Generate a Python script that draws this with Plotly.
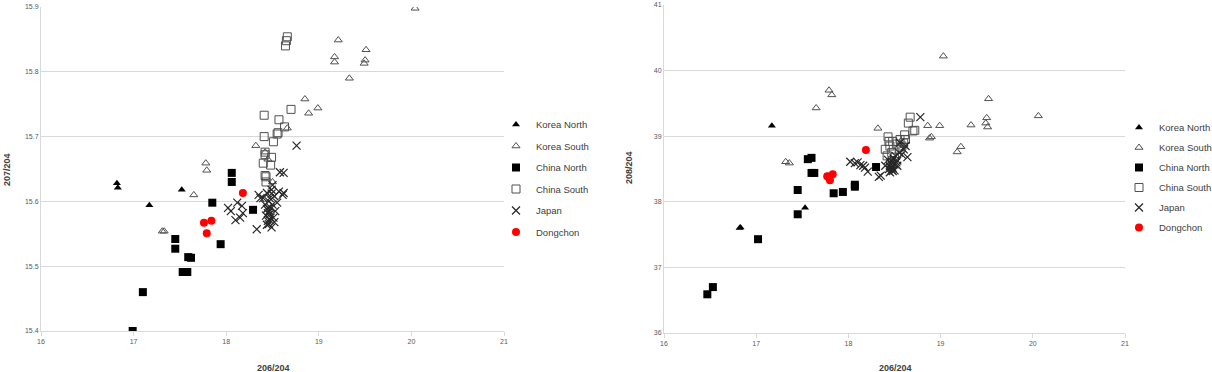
import plotly.graph_objects as go

# ---------------- Left panel: 207/204 vs 206/204 ----------------
kn_x_L = [16.82, 16.83, 17.52, 17.17]
kn_y_L = [15.628, 15.621, 15.618, 15.594]

ks_x_L = [20.04, 19.21, 19.17, 19.17, 19.51, 19.50, 19.49, 19.33, 18.85, 18.89, 18.99,
          18.66, 18.32, 17.78, 17.79, 17.65, 17.31, 17.33, 18.42, 18.45, 18.50]
ks_y_L = [15.898, 15.849, 15.823, 15.815, 15.834, 15.818, 15.813, 15.790, 15.758, 15.736, 15.744,
          15.713, 15.686, 15.659, 15.648, 15.610, 15.554, 15.554, 15.676, 15.665, 15.630]

cn_x_L = [16.99, 17.10, 17.53, 17.58, 17.59, 17.62, 17.45, 17.45, 17.85, 17.94, 18.06, 18.06, 18.29]
cn_y_L = [15.400, 15.460, 15.491, 15.491, 15.514, 15.513, 15.542, 15.527, 15.598, 15.534, 15.644, 15.630, 15.587]

cs_x_L = [18.66, 18.65, 18.64, 18.41, 18.70, 18.57, 18.56, 18.55, 18.63, 18.41, 18.51,
          18.42, 18.42, 18.49, 18.40, 18.43, 18.43, 18.48, 18.42]
cs_y_L = [15.854, 15.848, 15.840, 15.733, 15.742, 15.726, 15.706, 15.704, 15.715, 15.700, 15.692,
          15.676, 15.672, 15.668, 15.659, 15.638, 15.630, 15.656, 15.640]

jp_x_L = [18.76, 18.62, 18.58, 18.62, 18.61, 18.02, 18.12, 18.17, 18.10, 18.18, 18.33,
          18.37, 18.44, 18.49, 18.55, 18.45, 18.47, 18.44, 18.50, 18.52, 18.42, 18.48,
          18.53, 18.40, 18.46, 18.51, 18.43, 18.49, 18.57, 18.35, 18.05, 18.15,
          18.45, 18.46, 18.47, 18.45, 18.48, 18.46, 18.50, 18.47, 18.44, 18.52, 18.49]
jp_y_L = [15.686, 15.644, 15.645, 15.613, 15.610, 15.590, 15.598, 15.593, 15.571, 15.582, 15.557,
          15.605, 15.613, 15.618, 15.598, 15.582, 15.571, 15.564, 15.625, 15.608, 15.595, 15.590,
          15.585, 15.605, 15.600, 15.575, 15.578, 15.560, 15.615, 15.610, 15.585, 15.575,
          15.570, 15.565, 15.580, 15.590, 15.575, 15.585, 15.595, 15.605, 15.588, 15.568, 15.612]

dc_x_L = [17.76, 17.84, 17.79, 18.18]
dc_y_L = [15.567, 15.570, 15.551, 15.613]

# ---------------- Right panel: 208/204 vs 206/204 ----------------
kn_x_R = [17.17, 16.82, 16.83, 17.53]
kn_y_R = [39.16, 37.60, 37.61, 37.91]

ks_x_R = [19.03, 19.52, 20.06, 18.86, 18.99, 19.33, 19.50, 19.49, 19.51, 18.90, 19.22,
          19.18, 17.79, 17.82, 17.65, 17.32, 17.36, 18.32, 18.88]
ks_y_R = [40.22, 39.57, 39.31, 39.16, 39.16, 39.17, 39.28, 39.20, 39.14, 38.99, 38.84,
          38.76, 39.70, 39.63, 39.43, 38.61, 38.59, 39.12, 38.97]

cn_x_R = [16.47, 16.53, 17.02, 17.45, 17.45, 17.84, 17.94, 18.07, 18.07, 17.56, 17.60, 17.60, 17.63, 18.30]
cn_y_R = [36.59, 36.70, 37.43, 37.81, 38.18, 38.13, 38.15, 38.26, 38.23, 38.65, 38.67, 38.44, 38.44, 38.53]

cs_x_R = [18.67, 18.65, 18.70, 18.72, 18.61, 18.43, 18.48, 18.52, 18.45, 18.56, 18.60,
          18.40, 18.47, 18.55, 18.42, 18.50, 18.58, 18.44, 18.62, 18.46]
cs_y_R = [39.29, 39.20, 39.08, 39.09, 39.02, 38.99, 38.92, 38.88, 38.85, 38.95, 38.90,
          38.80, 38.75, 38.80, 38.70, 38.68, 38.85, 38.92, 38.95, 38.60]

jp_x_R = [18.02, 18.07, 18.13, 18.18, 18.21, 18.33, 18.78, 18.10, 18.16, 18.35,
          18.56, 18.60, 18.64, 18.43, 18.46, 18.48, 18.50, 18.53, 18.45, 18.47,
          18.49, 18.52, 18.44, 18.51, 18.55, 18.40, 18.58, 18.62, 18.48, 18.46,
          18.50, 18.47, 18.53, 18.45]
jp_y_R = [38.61, 38.59, 38.56, 38.52, 38.46, 38.38, 39.29, 38.60, 38.55, 38.40,
          38.90, 38.80, 38.68, 38.64, 38.58, 38.52, 38.48, 38.55, 38.45, 38.62,
          38.66, 38.60, 38.50, 38.70, 38.75, 38.55, 38.72, 38.85, 38.47, 38.52,
          38.57, 38.49, 38.63, 38.54]

dc_x_R = [18.19, 17.78, 17.83, 17.80, 17.77]
dc_y_R = [38.79, 38.38, 38.42, 38.33, 38.39]

series_names = ["Korea North", "Korea South", "China North", "China South", "Japan", "Dongchon"]

styles = [
    dict(symbol="triangle-up", color="#000000", size=7, line=dict(width=0)),
    dict(symbol="triangle-up-open", color="#505050", size=7, line=dict(width=1)),
    dict(symbol="square", color="#000000", size=8, line=dict(width=0)),
    dict(symbol="square-open", color="#505050", size=8, line=dict(width=1)),
    dict(symbol="x-thin-open", color="#262626", size=8, line=dict(width=1.2, color="#262626")),
    dict(symbol="circle", color="#ff0000", size=8, line=dict(width=0)),
]

left = [(kn_x_L, kn_y_L), (ks_x_L, ks_y_L), (cn_x_L, cn_y_L), (cs_x_L, cs_y_L), (jp_x_L, jp_y_L), (dc_x_L, dc_y_L)]
right = [(kn_x_R, kn_y_R), (ks_x_R, ks_y_R), (cn_x_R, cn_y_R), (cs_x_R, cs_y_R), (jp_x_R, jp_y_R), (dc_x_R, dc_y_R)]

fig = go.Figure()
for i, (name, st) in enumerate(zip(series_names, styles)):
    xs, ys = left[i]
    fig.add_trace(go.Scatter(x=xs, y=ys, mode="markers", name=name, marker=st,
                             xaxis="x", yaxis="y", legend="legend", legendgroup="L" + str(i)))
for i, (name, st) in enumerate(zip(series_names, styles)):
    xs, ys = right[i]
    fig.add_trace(go.Scatter(x=xs, y=ys, mode="markers", name=name, marker=st,
                             xaxis="x2", yaxis="y2", legend="legend2", legendgroup="R" + str(i)))

W, H = 1212, 372
tickfont = dict(family="Liberation Sans, Arial, sans-serif", size=7, color="#595959")
grid = "#d9d9d9"

xcommon = dict(range=[16, 21], dtick=1, tick0=16, showgrid=False, zeroline=False,
               showline=True, linecolor=grid, linewidth=1, ticks="outside", ticklen=4,
               tickcolor=grid, tickfont=tickfont, fixedrange=True)
ycommon = dict(showgrid=True, gridcolor=grid, gridwidth=1, zeroline=False,
               showline=True, linecolor=grid, linewidth=1, ticks="", tickfont=tickfont,
               fixedrange=True)

legfont = dict(family="Liberation Sans, Arial, sans-serif", size=9.5, color="#404040")

fig.update_layout(
    width=W, height=H,
    margin=dict(l=0, r=0, t=0, b=0, autoexpand=False),
    paper_bgcolor="white", plot_bgcolor="white",
    xaxis=dict(domain=[41 / W, 504 / W], anchor="y", **xcommon),
    yaxis=dict(domain=[1 - 331 / H, 1 - 7 / H], anchor="x", range=[15.4, 15.9], dtick=0.1,
               tick0=15.4, tickformat=".1f", **ycommon),
    xaxis2=dict(domain=[664 / W, 1125 / W], anchor="y2", **xcommon),
    yaxis2=dict(domain=[1 - 333 / H, 1 - 5 / H], anchor="x2", range=[36, 41], dtick=1,
                tick0=36, **ycommon),
    legend=dict(x=496 / W, y=1 - 110 / H, xanchor="left", yanchor="top",
                bgcolor="rgba(0,0,0,0)", font=legfont, traceorder="grouped",
                tracegroupgap=2.5, itemwidth=30),
    legend2=dict(x=1119 / W, y=1 - 113 / H, xanchor="left", yanchor="top",
                 bgcolor="rgba(0,0,0,0)", font=legfont, traceorder="grouped",
                 tracegroupgap=1, itemwidth=30),
    showlegend=True,
)

titlefont = dict(family="Liberation Sans, Arial, sans-serif", size=9, color="#404040")
fig.add_annotation(text="<b>206/204</b>", x=273 / W, y=1 - 368 / H, xref="paper", yref="paper",
                   showarrow=False, font=titlefont, xanchor="center", yanchor="middle")
fig.add_annotation(text="<b>206/204</b>", x=895 / W, y=1 - 368 / H, xref="paper", yref="paper",
                   showarrow=False, font=titlefont, xanchor="center", yanchor="middle")
fig.add_annotation(text="<b>207/204</b>", x=7 / W, y=1 - 170 / H, xref="paper", yref="paper",
                   showarrow=False, font=titlefont, textangle=-90, xanchor="center", yanchor="middle")
fig.add_annotation(text="<b>208/204</b>", x=629 / W, y=1 - 168 / H, xref="paper", yref="paper",
                   showarrow=False, font=titlefont, textangle=-90, xanchor="center", yanchor="middle")

fig.write_html("out.html")
